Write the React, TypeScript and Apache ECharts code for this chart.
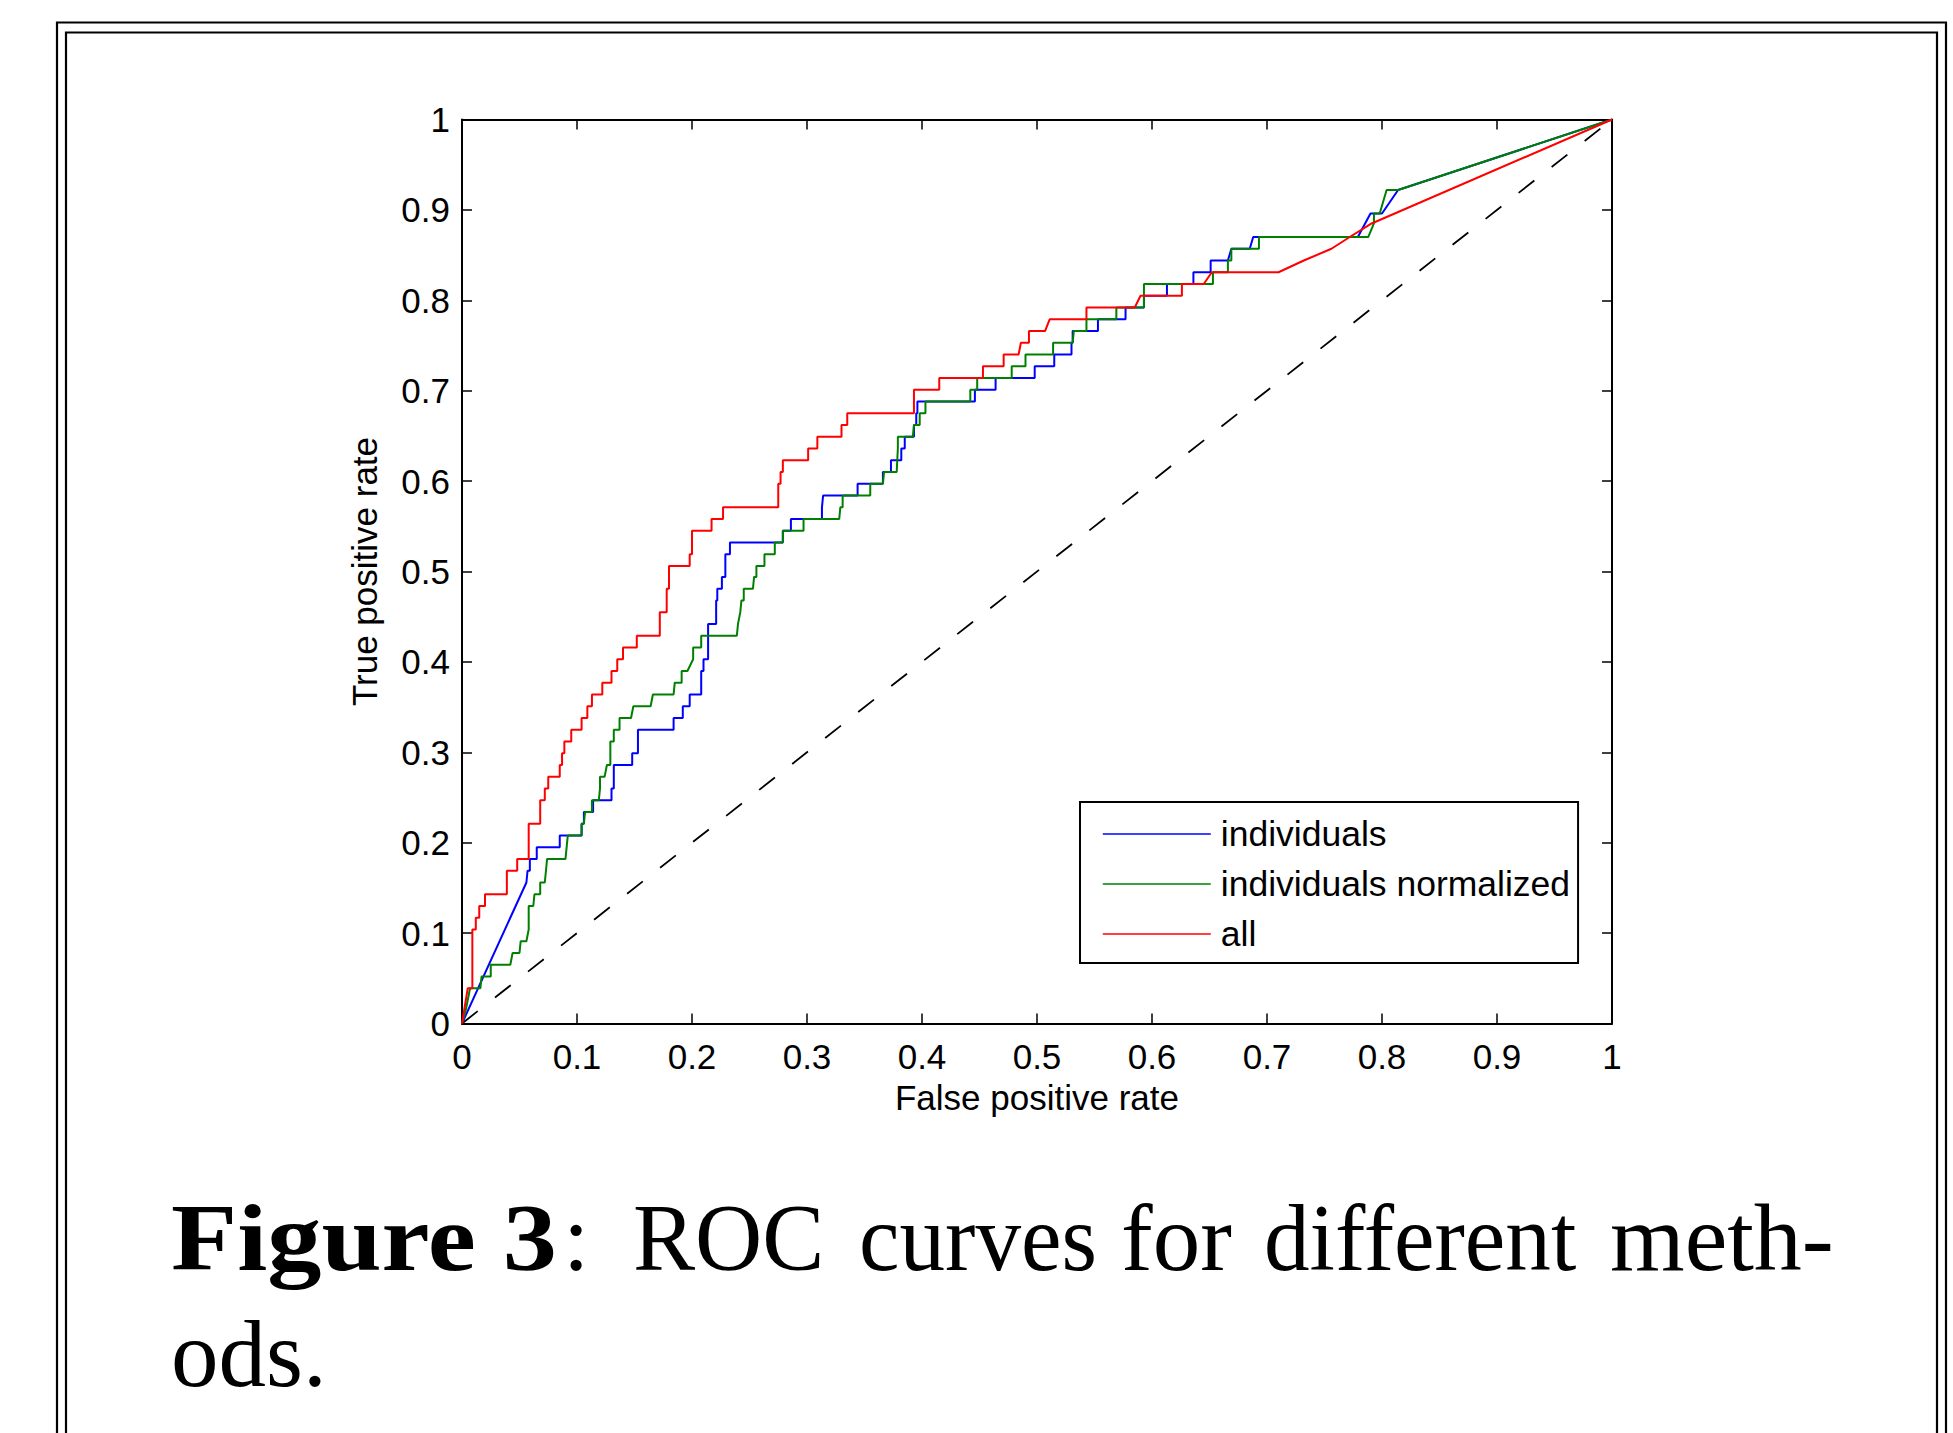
import React, { useEffect, useRef } from "react";
import * as echarts from "echarts";

// ---- data (fpr, tpr) ----
const seriesNames = ["individuals", "individuals normalized", "all"];
const seriesColors = ["#0000ff", "#008000", "#ff0000"];

const individuals: [number, number][] = [
  [0, 0], [0.056, 0.156], [0.057, 0.169], [0.059, 0.169], [0.059, 0.182],
  [0.065, 0.182], [0.065, 0.195], [0.085, 0.195], [0.085, 0.208], [0.104, 0.208],
  [0.104, 0.221], [0.106, 0.221], [0.106, 0.234], [0.114, 0.234], [0.114, 0.247],
  [0.130, 0.247], [0.130, 0.260], [0.132, 0.260], [0.132, 0.286], [0.148, 0.286],
  [0.148, 0.299], [0.153, 0.299], [0.153, 0.325], [0.184, 0.325], [0.184, 0.338],
  [0.192, 0.338], [0.192, 0.351], [0.198, 0.351], [0.198, 0.364], [0.208, 0.364],
  [0.208, 0.390], [0.210, 0.390], [0.210, 0.403], [0.214, 0.403], [0.214, 0.442],
  [0.221, 0.442], [0.221, 0.468], [0.222, 0.468], [0.222, 0.481], [0.226, 0.481],
  [0.226, 0.494], [0.229, 0.494], [0.229, 0.519], [0.233, 0.519], [0.233, 0.532],
  [0.279, 0.532], [0.279, 0.545], [0.286, 0.545], [0.286, 0.558], [0.313, 0.558],
  [0.313, 0.571], [0.314, 0.584], [0.344, 0.584], [0.344, 0.597], [0.366, 0.597],
  [0.366, 0.610], [0.373, 0.610], [0.373, 0.623], [0.382, 0.623], [0.382, 0.636],
  [0.385, 0.636], [0.385, 0.649], [0.393, 0.649], [0.393, 0.662], [0.395, 0.662],
  [0.395, 0.675], [0.396, 0.675], [0.396, 0.688], [0.446, 0.688], [0.446, 0.701],
  [0.464, 0.701], [0.464, 0.714], [0.498, 0.714], [0.498, 0.727], [0.515, 0.727],
  [0.515, 0.740], [0.530, 0.740], [0.530, 0.753], [0.531, 0.753], [0.531, 0.766],
  [0.553, 0.766], [0.553, 0.779], [0.577, 0.779], [0.577, 0.792], [0.593, 0.792],
  [0.593, 0.805], [0.613, 0.805], [0.613, 0.818], [0.636, 0.818], [0.636, 0.831],
  [0.651, 0.831], [0.651, 0.844], [0.666, 0.844], [0.669, 0.857], [0.685, 0.857],
  [0.688, 0.870], [0.779, 0.870], [0.790, 0.896], [0.800, 0.896], [0.814, 0.922],
  [1, 1],
];

const individualsNormalized: [number, number][] = [
  [0, 0], [0.003, 0.013], [0.005, 0.026], [0.007, 0.039], [0.016, 0.039],
  [0.017, 0.052], [0.025, 0.052], [0.025, 0.065], [0.042, 0.065], [0.044, 0.078],
  [0.050, 0.078], [0.051, 0.091], [0.056, 0.091], [0.058, 0.104], [0.058, 0.130],
  [0.062, 0.130], [0.063, 0.143], [0.068, 0.143], [0.068, 0.156], [0.072, 0.156],
  [0.073, 0.169], [0.074, 0.182], [0.090, 0.182], [0.091, 0.195], [0.092, 0.208],
  [0.104, 0.208], [0.104, 0.221], [0.106, 0.221], [0.107, 0.234], [0.113, 0.234],
  [0.113, 0.247], [0.119, 0.247], [0.120, 0.260], [0.120, 0.273], [0.124, 0.273],
  [0.126, 0.286], [0.129, 0.286], [0.129, 0.312], [0.132, 0.312], [0.132, 0.325],
  [0.137, 0.325], [0.137, 0.338], [0.147, 0.338], [0.149, 0.351], [0.164, 0.351],
  [0.166, 0.364], [0.184, 0.364], [0.185, 0.377], [0.191, 0.377], [0.191, 0.390],
  [0.196, 0.390], [0.201, 0.403], [0.201, 0.416], [0.208, 0.416], [0.208, 0.429],
  [0.239, 0.429], [0.240, 0.442], [0.242, 0.455], [0.243, 0.468], [0.245, 0.468],
  [0.245, 0.481], [0.253, 0.481], [0.254, 0.494], [0.256, 0.494], [0.256, 0.506],
  [0.263, 0.506], [0.263, 0.519], [0.272, 0.519], [0.272, 0.532], [0.279, 0.532],
  [0.279, 0.545], [0.297, 0.545], [0.297, 0.558], [0.328, 0.558], [0.329, 0.571],
  [0.331, 0.571], [0.331, 0.584], [0.355, 0.584], [0.355, 0.597], [0.366, 0.597],
  [0.367, 0.610], [0.378, 0.610], [0.379, 0.636], [0.379, 0.649], [0.392, 0.649],
  [0.393, 0.662], [0.398, 0.662], [0.398, 0.675], [0.403, 0.675], [0.403, 0.688],
  [0.442, 0.688], [0.442, 0.701], [0.448, 0.701], [0.448, 0.714], [0.478, 0.714],
  [0.478, 0.727], [0.490, 0.727], [0.490, 0.740], [0.514, 0.740], [0.514, 0.753],
  [0.531, 0.753], [0.532, 0.766], [0.543, 0.766], [0.543, 0.779], [0.569, 0.779],
  [0.569, 0.792], [0.593, 0.792], [0.593, 0.818], [0.653, 0.818], [0.653, 0.831],
  [0.666, 0.831], [0.666, 0.844], [0.669, 0.844], [0.669, 0.857], [0.693, 0.857],
  [0.693, 0.870], [0.788, 0.870], [0.793, 0.885], [0.793, 0.896], [0.798, 0.896],
  [0.804, 0.922], [0.814, 0.922], [1, 1],
];

const allMethods: [number, number][] = [
  [0, 0], [0.005, 0.039], [0.009, 0.039], [0.009, 0.104], [0.012, 0.104],
  [0.012, 0.117], [0.015, 0.117], [0.015, 0.130], [0.020, 0.130], [0.020, 0.143],
  [0.039, 0.143], [0.039, 0.169], [0.048, 0.169], [0.048, 0.182], [0.058, 0.182],
  [0.058, 0.221], [0.068, 0.221], [0.068, 0.247], [0.072, 0.247], [0.072, 0.260],
  [0.075, 0.260], [0.075, 0.273], [0.085, 0.273], [0.085, 0.286], [0.087, 0.286],
  [0.087, 0.299], [0.089, 0.299], [0.089, 0.312], [0.095, 0.312], [0.095, 0.325],
  [0.104, 0.325], [0.104, 0.338], [0.109, 0.338], [0.109, 0.351], [0.113, 0.351],
  [0.113, 0.364], [0.122, 0.364], [0.122, 0.377], [0.130, 0.377], [0.130, 0.390],
  [0.135, 0.390], [0.135, 0.403], [0.140, 0.403], [0.140, 0.416], [0.152, 0.416],
  [0.152, 0.429], [0.172, 0.429], [0.172, 0.455], [0.178, 0.455], [0.178, 0.481],
  [0.180, 0.481], [0.180, 0.506], [0.198, 0.506], [0.198, 0.519], [0.200, 0.519],
  [0.200, 0.545], [0.217, 0.545], [0.217, 0.558], [0.227, 0.558], [0.227, 0.571],
  [0.275, 0.571], [0.275, 0.597], [0.277, 0.597], [0.277, 0.610], [0.279, 0.610],
  [0.279, 0.623], [0.301, 0.623], [0.301, 0.636], [0.309, 0.636], [0.309, 0.649],
  [0.330, 0.649], [0.330, 0.662], [0.335, 0.662], [0.335, 0.675], [0.393, 0.675],
  [0.393, 0.701], [0.415, 0.701], [0.415, 0.714], [0.453, 0.714], [0.453, 0.727],
  [0.471, 0.727], [0.471, 0.740], [0.484, 0.740], [0.486, 0.753], [0.493, 0.753],
  [0.493, 0.766], [0.507, 0.766], [0.511, 0.779], [0.543, 0.779], [0.543, 0.792],
  [0.585, 0.792], [0.590, 0.805], [0.626, 0.805], [0.626, 0.818], [0.645, 0.818],
  [0.652, 0.831], [0.710, 0.831], [0.732, 0.844], [0.756, 0.857], [0.772, 0.870],
  [0.791, 0.885], [1, 1],
];

const chanceLine: [number, number][] = [[0, 0], [1, 1]];

const axisMin = 0;
const axisMax = 1;
const axisInterval = 0.1;

const xAxisTitle = "False positive rate";
const yAxisTitle = "True positive rate";

// caption pieces: [text, bold]
const captionLine1: [string, boolean][] = [
  ["Figure 3", true], [":", false], ["ROC", false], ["curves", false],
  ["for", false], ["different", false], ["meth-", false],
];
const captionLine2: [string, boolean][] = [["ods.", false]];

const SANS = "'Liberation Sans', Arial, Helvetica, sans-serif";
const SERIF = "'Liberation Serif', 'Times New Roman', serif";

export default function App() {
  const ref = useRef<HTMLDivElement>(null);

  useEffect(() => {
    if (!ref.current) return;
    const chart = echarts.init(ref.current, null, { renderer: "svg" });

    const gridLeft = 462;
    const gridTop = 119.5;
    const gridW = 1150;
    const gridH = 904;

    const line1X = [171, 563, 633, 859, 1121, 1264, 1610];
    const line1Scale = [1.14, 1, 0.98, 0.96, 1, 0.96, 1.01];
    const capSize = 95;
    const captionEls: any[] = [];
    captionLine1.forEach(([t, b], i) => {
      captionEls.push({
        type: "text",
        x: line1X[i],
        y: 1238,
        scaleX: line1Scale[i],
        style: {
          text: t,
          fontFamily: SERIF,
          fontSize: capSize,
          fontWeight: b ? "bold" : "normal",
          fill: "#000",
          verticalAlign: "middle",
          align: "left",
        },
      });
    });
    captionLine2.forEach(([t, b]) => {
      captionEls.push({
        type: "text",
        x: 171,
        y: 1354,
        style: {
          text: t,
          fontFamily: SERIF,
          fontSize: capSize,
          fontWeight: b ? "bold" : "normal",
          fill: "#000",
          verticalAlign: "middle",
          align: "left",
        },
      });
    });

    const axisCommon = {
      type: "value",
      min: axisMin,
      max: axisMax,
      interval: axisInterval,
      splitLine: { show: false },
      axisLine: { show: true, onZero: false, lineStyle: { color: "#000", width: 2 } },
      axisTick: { show: true, inside: true, length: 10, lineStyle: { color: "#000", width: 1.5 } },
    };

    const lineSeries = (name: string, data: [number, number][], color: string) => ({
      name,
      type: "line",
      data,
      symbol: "none",
      showSymbol: false,
      lineStyle: { color, width: 2 },
      itemStyle: { color },
      xAxisIndex: 0,
      yAxisIndex: 0,
      z: 3,
    });

    chart.setOption({
      animation: false,
      backgroundColor: "#fff",
      grid: {
        left: gridLeft,
        top: gridTop,
        width: gridW,
        height: gridH,
        containLabel: false,
        outerBoundsMode: "none",
      },
      xAxis: [
        {
          ...axisCommon,
          position: "bottom",
          name: xAxisTitle,
          nameLocation: "middle",
          nameGap: 56,
          nameTextStyle: { fontFamily: SANS, fontSize: 35, color: "#000" },
          axisLabel: { fontFamily: SANS, fontSize: 35, color: "#000", margin: 15 },
        },
        {
          ...axisCommon,
          position: "top",
          axisLabel: { show: false },
        },
      ],
      yAxis: [
        {
          ...axisCommon,
          position: "left",
          name: yAxisTitle,
          nameLocation: "middle",
          nameRotate: 90,
          nameGap: 80,
          nameTextStyle: { fontFamily: SANS, fontSize: 35, color: "#000" },
          axisLabel: { fontFamily: SANS, fontSize: 35, color: "#000", margin: 12 },
        },
        {
          ...axisCommon,
          position: "right",
          axisLabel: { show: false },
        },
      ],
      legend: {
        data: seriesNames,
        orient: "vertical",
        left: 1080,
        top: 802,
        padding: [14, 8, 11, 22],
        itemWidth: 108,
        itemHeight: 20,
        itemGap: 14,
        selectedMode: false,
        borderColor: "#000",
        borderWidth: 2,
        backgroundColor: "#fff",
        itemStyle: { opacity: 0, borderWidth: 0 },
        lineStyle: { width: 1.6 },
        textStyle: {
          fontFamily: SANS,
          fontSize: 35.5,
          color: "#000",
          lineHeight: 30,
          padding: [0, 0, 0, 5],
        },
      },
      series: [
        {
          name: "chance",
          type: "line",
          data: chanceLine,
          symbol: "none",
          showSymbol: false,
          lineStyle: { color: "#000", width: 1.8, type: [20, 22] },
          z: 2,
        },
        lineSeries(seriesNames[0], individuals, seriesColors[0]),
        lineSeries(seriesNames[1], individualsNormalized, seriesColors[1]),
        lineSeries(seriesNames[2], allMethods, seriesColors[2]),
      ],
      graphic: [
        {
          type: "rect",
          shape: { x: 57, y: 22.5, width: 1889, height: 1500 },
          style: { fill: "none", stroke: "#000", lineWidth: 2.2 },
          silent: true,
        },
        {
          type: "rect",
          shape: { x: 66, y: 32.5, width: 1871, height: 1500 },
          style: { fill: "none", stroke: "#000", lineWidth: 2.2 },
          silent: true,
        },
        ...captionEls,
      ],
    });

    return () => chart.dispose();
  }, []);

  return (
    <div
      ref={ref}
      style={{ position: "absolute", left: 0, top: 0, width: 1953, height: 1433, background: "#fff" }}
    />
  );
}
